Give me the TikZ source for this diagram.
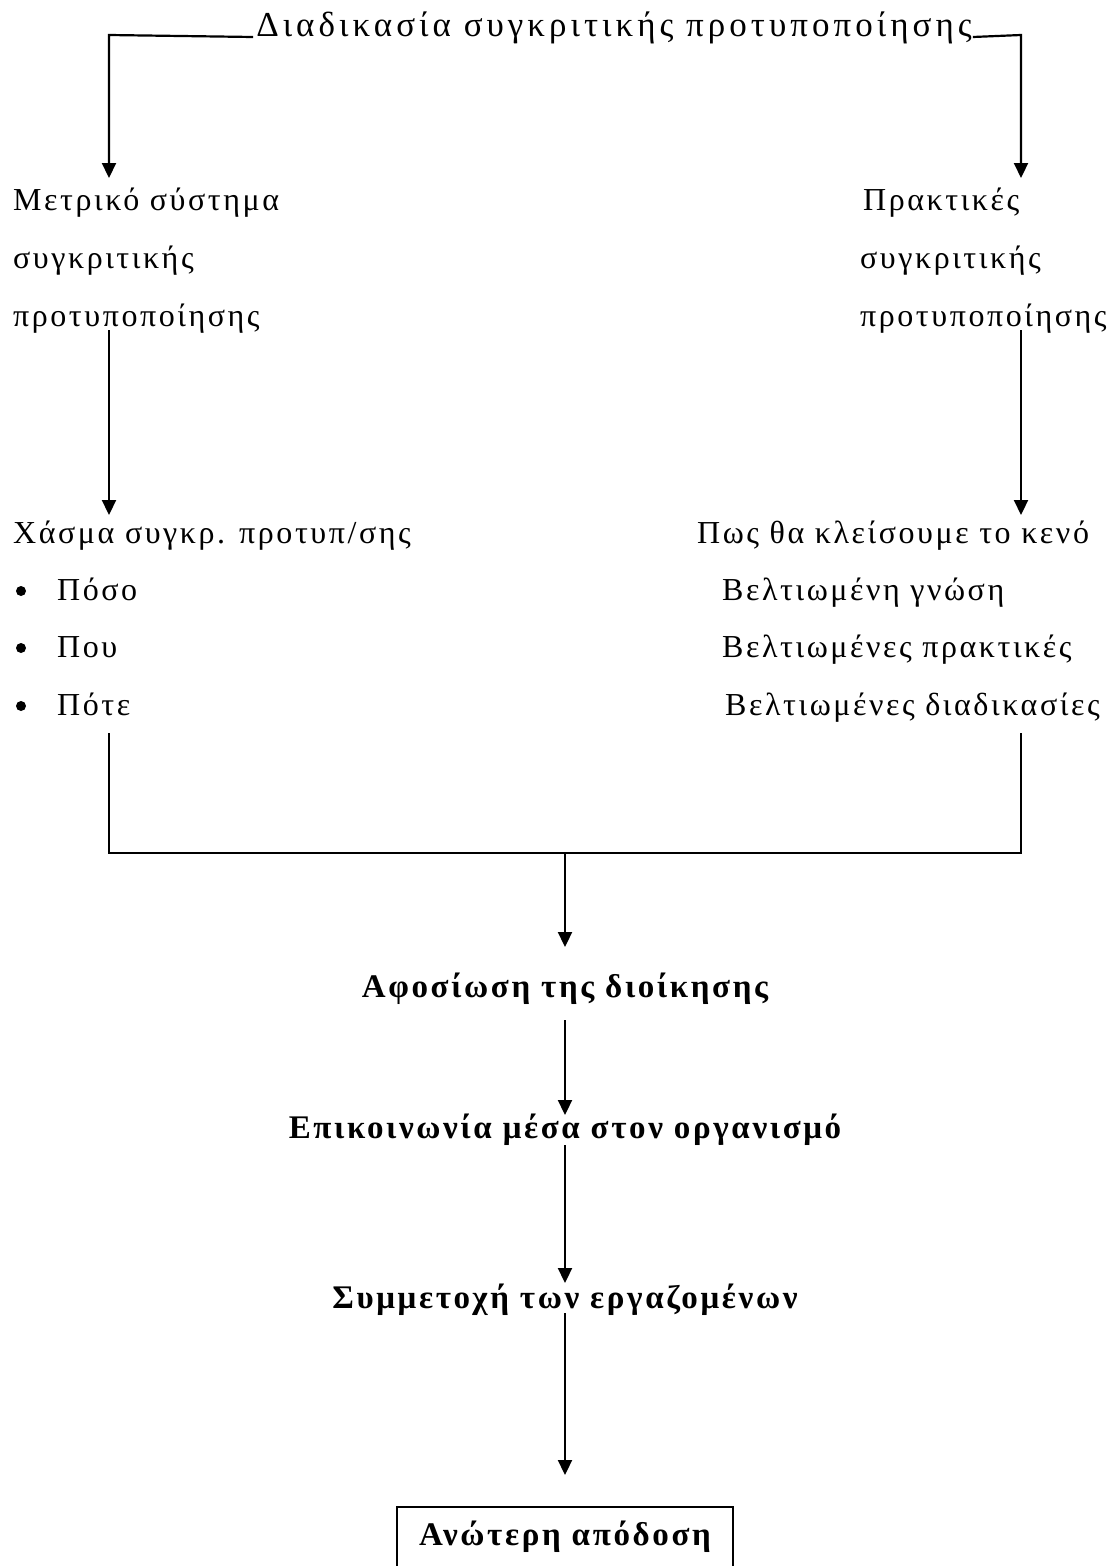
\documentclass[tikz,border=0pt]{standalone}
\usepackage{fontspec}
\setmainfont{Liberation Serif}
\newfontfamily\bodyfont[LetterSpace=8]{Liberation Serif}
\newfontfamily\titlefont[LetterSpace=11.5]{Liberation Serif}
\newfontfamily\boldfont[LetterSpace=8]{Liberation Serif Bold}
\usetikzlibrary{arrows.meta}
\begin{document}
\begin{tikzpicture}[x=1pt,y=-1pt,
  txt/.style={inner sep=0pt, anchor=base west, font=\bodyfont\fontsize{32}{32}\selectfont},
  ttl/.style={inner sep=0pt, anchor=base, font=\titlefont\fontsize{35}{35}\selectfont},
  bld/.style={inner sep=0pt, anchor=base, font=\boldfont\fontsize{33}{33}\selectfont},
  bullet/.style={circle, fill=black, inner sep=0pt, minimum size=10pt},
  conn/.style={line width=2.2pt},
  arr/.style={line width=2.2pt, -{Triangle[length=15pt,width=14pt]}}]
\useasboundingbox (0,0) rectangle (1113,1566);
% title
\node[ttl] (title) at (614,36) {Διαδικασία συγκριτικής προτυποποίησης};
\coordinate (tl) at (109,35);
\coordinate (tr) at (1021,35);
\coordinate (a1) at (109,178);
\coordinate (a2) at (1021,178);
\draw[arr] ([xshift=-3pt,yshift=-1pt]title.base west) -- (tl) -- (a1);
\draw[arr] ([xshift=1pt,yshift=-1pt]title.base east) -- (tr) -- (a2);
% left column
\node[txt] (m1) at (13,210) {Μετρικό σύστημα};
\node[txt] (m2) at (13,268) {συγκριτικής};
\node[txt] (m3) at (13,326) {προτυποποίησης};
% right column
\node[txt] (p1) at (863,210) {Πρακτικές};
\node[txt] (p2) at (860,268) {συγκριτικής};
\node[txt] (p3) at (860,326) {προτυποποίησης};
\coordinate (b1s) at (109,330);
\coordinate (b1e) at (109,515);
\coordinate (b2s) at (1021,330);
\coordinate (b2e) at (1021,515);
\draw[arr] (b1s) -- (b1e);
\draw[arr] (b2s) -- (b2e);
% gap list
\node[txt] (g0) at (13,543) {Χάσμα συγκρ. προτυπ/σης};
\node[txt] (g1) at (57,600) {Πόσο};
\node[txt] (g2) at (57,657) {Που};
\node[txt] (g3) at (57,715) {Πότε};
\node[bullet] (bul1) at (21,591) {};
\node[bullet] (bul2) at (21,648) {};
\node[bullet] (bul3) at (21,706) {};
% close the gap list
\node[txt] (c0) at (697,543) {Πως θα κλείσουμε το κενό};
\node[txt] (c1) at (722,600) {Βελτιωμένη γνώση};
\node[txt] (c2) at (722,657) {Βελτιωμένες πρακτικές};
\node[txt] (c3) at (725,715) {Βελτιωμένες διαδικασίες};
% merge
\coordinate (l1) at (109,733);
\coordinate (r1) at (1021,733);
\coordinate (l2) at (109,853);
\coordinate (r2) at (1021,853);
\coordinate (mid) at (565,853);
\draw[conn] (l1) -- (l2) -- (r2) -- (r1);
% chain
\node[bld] (s1) at (565,997) {Αφοσίωση της διοίκησης};
\node[bld] (s2) at (565,1138) {Επικοινωνία μέσα στον οργανισμό};
\node[bld] (s3) at (565,1308) {Συμμετοχή των εργαζομένων};
\node[bld] (s4) at (565,1545) {Ανώτερη απόδοση};
\coordinate (e1) at (565,947);
\coordinate (f1) at (565,1020);
\coordinate (e2) at (565,1115);
\coordinate (f2) at (565,1145);
\coordinate (e3) at (565,1283);
\coordinate (f3) at (565,1313);
\coordinate (e4) at (565,1475);
\draw[arr] (mid) -- (e1);
\draw[arr] (f1) -- (e2);
\draw[arr] (f2) -- (e3);
\draw[arr] (f3) -- (e4);
\draw[line width=2.2pt] (397,1600) -- (397,1507) -- (733,1507) -- (733,1600);
\end{tikzpicture}
\end{document}
